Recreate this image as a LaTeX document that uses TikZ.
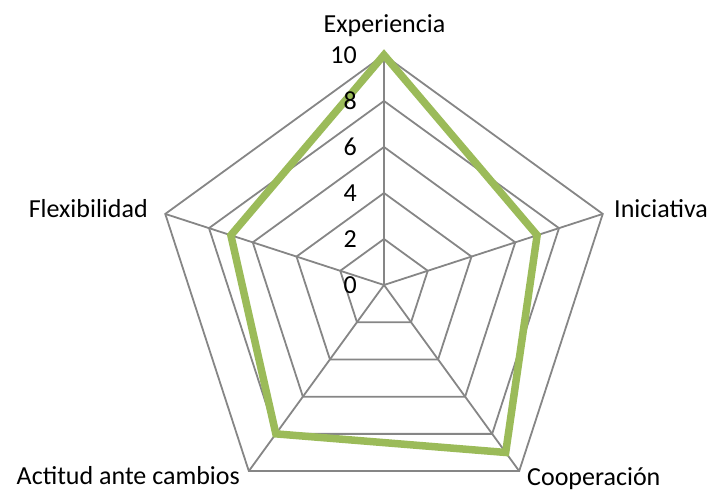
\documentclass[tikz,border=0pt]{standalone}
\usepackage{fontspec}
\setmainfont{Carlito}
\begin{document}
\begin{tikzpicture}[x=1pt,y=1pt,
  grid/.style={draw={rgb,255:red,134;green,134;blue,134}, line width=1.8pt},
  series/.style={draw={rgb,255:red,155;green,187;blue,89}, line width=7.5pt, line join=miter},
  lab/.style={font=\fontsize{26}{31}\selectfont, inner sep=0pt},
  tick/.style={font=\fontsize{26}{31}\selectfont, inner sep=0pt, anchor=east}]
\useasboundingbox (0,0) rectangle (711,491);
\coordinate (c) at (384,206);
% axis coordinates
\foreach \i/\a in {1/90,2/18,3/-54,4/-126,5/162}{
  \foreach \k in {1,...,5}{
    \path (c) ++(\a:{46*\k}) coordinate (p\i-\k);
  }
}
% grid polygons
\foreach \k in {1,...,5}{
  \draw[grid] (p1-\k) -- (p2-\k) -- (p3-\k) -- (p4-\k) -- (p5-\k) -- cycle;
}
% spokes
\foreach \i in {1,...,5}{
  \draw[grid] (c) -- (p\i-5);
}
% data points
\path (c) ++(90:230) coordinate (d1);
\path (c) ++(18:161) coordinate (d2);
\path (c) ++(-54:207) coordinate (d3);
\path (c) ++(-126:184) coordinate (d4);
\path (c) ++(162:161) coordinate (d5);
\draw[series] (d1) -- (d2) -- (d3) -- (d4) -- (d5) -- cycle;
% tick labels
\node[tick] (t0) at (357,206) {0};
\foreach \k/\v in {1/2,2/4,3/6,4/8,5/10}{
  \node[tick] (t\v) at (357,{206+46*\k}) {\v};
}
% axis labels
\node[lab, anchor=base] (l1) at (384.5,458) {Experiencia};
\node[lab, anchor=base west] (l2) at (614,274) {Iniciativa};
\node[lab, anchor=base west] (l3) at (527,6) {Cooperación};
\node[lab, anchor=base east] (l4) at (240,7) {Actitud ante cambios};
\node[lab, anchor=base east] (l5) at (148,274) {Flexibilidad};
\end{tikzpicture}
\end{document}
